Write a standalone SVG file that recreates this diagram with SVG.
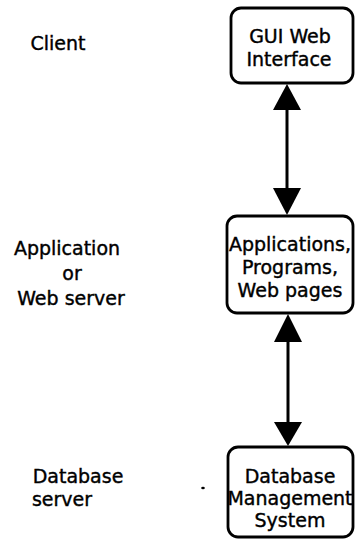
<svg xmlns="http://www.w3.org/2000/svg" width="355" height="542" viewBox="0 0 355 542">
<style>
.box{fill:#fff;stroke:#000;stroke-width:2.8}
.t{font-family:"DejaVu Sans","Liberation Sans",sans-serif;font-size:19px;fill:#000;stroke:#000;stroke-width:0.4;text-anchor:middle}
.l{stroke:#000;stroke-width:3}
.h{fill:#000}
</style>
<rect width="355" height="542" fill="#fff"/>
<g id="label-client"><text class="t" x="58" y="50">Client</text></g>
<g id="label-app"><text class="t" x="67" y="255">Application</text><text class="t" x="72" y="280">or</text><text class="t" x="71" y="305">Web server</text></g>
<g id="label-db"><text class="t" x="78" y="483">Database</text><text class="t" x="62" y="506">server</text></g>
<g id="connectors">
<line class="l" x1="287" y1="105" x2="287" y2="192"/>
<polygon class="h" points="287,84 273,110 301,110"/>
<polygon class="h" points="273,188 301,188 287,215"/>
<line class="l" x1="288" y1="336" x2="288" y2="428"/>
<polygon class="h" points="288,314 274,342 302,342"/>
<polygon class="h" points="274,422 302,422 288,446"/>
</g>
<g id="node-gui"><rect class="box" x="231" y="8" width="122" height="75" rx="10"/><text class="t" x="290" y="43">GUI Web</text><text class="t" x="289" y="66">Interface</text></g>
<g id="node-app"><rect class="box" x="227" y="216" width="126" height="97" rx="10"/><text class="t" x="290" y="251">Applications,</text><text class="t" x="290" y="274">Programs,</text><text class="t" x="290" y="297">Web pages</text></g>
<g id="node-db"><rect class="box" x="228" y="447" width="125" height="90" rx="10"/><text class="t" x="290" y="483">Database</text><text class="t" x="290" y="505">Management</text><text class="t" x="290" y="527">System</text></g>
<ellipse cx="203" cy="488" rx="1.8" ry="1.3" fill="#000"/>
</svg>
